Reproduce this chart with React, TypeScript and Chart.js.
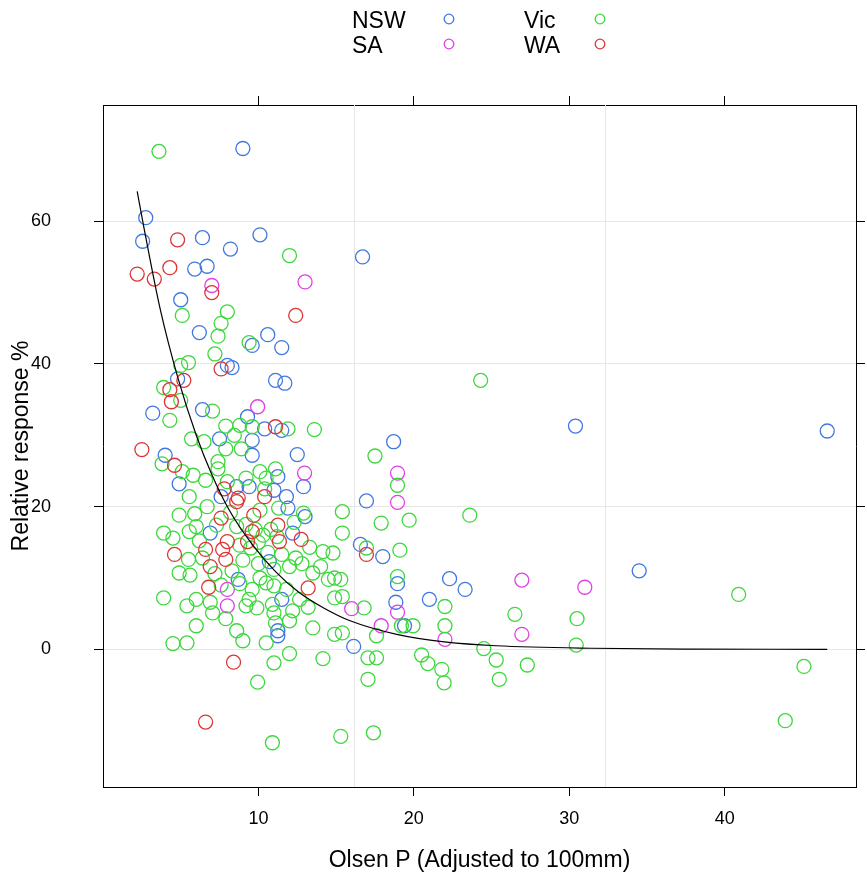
import React, { useEffect, useRef } from 'react';
import { Chart, registerables } from 'chart.js';

Chart.register(...registerables);

const FONT = '"Liberation Sans", Arial, Helvetica, sans-serif';

const xTicks = [10, 20, 30, 40];
const yTicks = [0, 20, 40, 60];
const xRefLines = [16.15, 32.3];
const xRange = [0, 48.45];
const yRange = [-19.3, 76.3];

const seriesNames = ['NSW', 'SA', 'Vic', 'WA'];
const seriesColors = ['#4178e0', '#e040e6', '#3cd83c', '#dd3535'];

const nswPoints: [number, number][] = [
  [9.0, 70.2], [2.75, 60.5], [2.55, 57.2], [6.4, 57.7], [10.1, 58.1], [8.2, 56.1], [5.9, 53.3], [6.7, 53.7],
  [16.7, 55.0], [5.0, 49.0], [6.2, 44.4], [10.6, 44.1], [9.6, 42.6], [11.5, 42.3], [8.0, 39.8], [8.3, 39.5],
  [11.1, 37.7], [11.7, 37.3], [4.8, 37.9], [3.2, 33.1], [6.4, 33.6], [9.3, 32.6], [10.4, 30.9], [11.5, 30.7],
  [7.5, 29.5], [9.6, 29.3], [9.6, 27.2], [12.5, 27.3], [4.0, 27.2], [4.9, 23.2], [11.25, 24.2], [12.9, 22.8],
  [8.6, 22.8], [9.4, 22.8], [11.0, 22.3], [11.8, 21.4], [11.9, 19.8], [7.6, 21.4], [13.0, 18.6], [6.9, 16.3],
  [12.2, 16.3], [10.7, 12.3], [8.7, 9.8], [11.5, 7.0], [11.25, 1.9], [11.25, 2.6], [30.4, 31.3], [18.7, 29.1],
  [16.95, 20.8], [16.56, 14.7], [18.0, 13.0], [18.95, 9.2], [22.3, 9.9], [23.3, 8.4], [18.84, 6.6], [21.0, 7.0],
  [19.4, 3.3], [16.13, 0.4], [46.6, 30.6], [34.5, 11.0],
];

const saPoints: [number, number][] = [
  [7.0, 51.0], [13.0, 51.5], [9.95, 34.0], [12.97, 24.7], [8.0, 8.4], [8.0, 6.1], [18.95, 24.7], [18.95, 20.6],
  [26.95, 9.7], [31.0, 8.7], [18.95, 5.2], [16.0, 5.7], [17.9, 3.3], [22.0, 1.4], [26.95, 2.1],
];

const vicPoints: [number, number][] = [
  [3.6, 69.8], [12.0, 55.2], [5.1, 46.8], [8.0, 47.3], [7.6, 45.7], [7.4, 43.9], [9.4, 43.0], [7.2, 41.4],
  [5.5, 40.2], [5.0, 39.8], [3.9, 36.7], [5.0, 34.9], [7.05, 33.4], [4.3, 32.1], [7.9, 31.3], [8.8, 31.4],
  [9.6, 31.2], [11.9, 30.9], [13.6, 30.8], [5.7, 29.5], [6.5, 29.1], [8.45, 30.0], [7.9, 28.1], [8.9, 28.1],
  [3.8, 26.0], [7.4, 26.3], [7.4, 25.3], [5.1, 24.9], [5.8, 24.4], [6.6, 23.7], [10.1, 24.9], [11.1, 25.3],
  [10.5, 24.0], [5.55, 21.4], [10.4, 22.5], [12.9, 19.1], [15.4, 19.3], [4.9, 18.8], [15.4, 16.3], [3.9, 16.3],
  [5.55, 16.5], [6.0, 17.2], [4.5, 15.6], [5.5, 12.6], [4.9, 10.7], [5.6, 10.4], [3.9, 7.2], [5.4, 6.1],
  [6.0, 7.0], [6.0, 3.3], [7.05, 5.1], [4.5, 0.8], [5.4, 0.9], [8.6, 2.6], [9.0, 1.2], [10.5, 0.9],
  [11.1, 3.7], [11.0, 5.1], [12.0, 4.0], [11.0, -1.9], [12.0, -0.6], [14.15, -1.3], [9.95, -4.6], [10.9, -13.1],
  [15.3, -12.2], [14.15, 13.7], [14.9, 10.0], [14.5, 9.8], [15.3, 9.8], [14.9, 7.2], [15.4, 7.4], [14.9, 2.1],
  [15.4, 2.3], [12.65, 7.0], [13.5, 10.7], [12.4, 12.8], [12.0, 11.6], [9.4, 7.0], [9.2, 6.1], [10.5, 9.3],
  [10.1, 10.0], [11.0, 8.9], [11.8, 8.4],
  [9.2, 17.5], [9.8, 16.8], [10.3, 16.0], [10.0, 15.0], [9.5, 14.2], [10.8, 16.8], [11.2, 15.8], [8.6, 17.2],
  [8.8, 14.6], [10.6, 13.6], [11.5, 13.3], [9.0, 12.5], [10.0, 12.0], [11.0, 11.2], [8.3, 11.0], [7.2, 10.6],
  [7.6, 9.0], [8.8, 9.2], [9.6, 8.4], [6.4, 12.8], [6.2, 15.2], [7.3, 17.4], [8.2, 19.2], [10.1, 19.5],
  [11.3, 19.8], [12.3, 17.8], [13.3, 14.3], [12.8, 12.0], [9.9, 5.8], [10.9, 6.3], [12.2, 5.4], [6.7, 20.0],
  [8.0, 23.5], [9.2, 24.0], [5.9, 19.0], [6.9, 6.6], [7.9, 4.3], [13.5, 3.0], [13.2, 5.9], [14.0, 11.6],
  [24.3, 37.7], [17.5, 27.1], [18.95, 23.0], [17.9, 17.7], [19.7, 18.1], [23.6, 18.8], [16.95, 14.2], [19.1, 13.9],
  [14.8, 13.5], [18.95, 10.2], [22.0, 6.0], [16.8, 5.8], [26.5, 4.9], [30.5, 4.3], [19.2, 3.3], [19.95, 3.3],
  [22.0, 3.3], [17.6, 1.9], [30.45, 0.6], [24.5, 0.1], [17.05, -1.2], [17.6, -1.2], [20.5, -0.8], [20.9, -2.0],
  [21.8, -2.8], [21.95, -4.7], [25.3, -1.5], [25.5, -4.2], [27.3, -2.2], [17.05, -4.2], [17.4, -11.7], [40.9, 7.7],
  [45.1, -2.4], [43.9, -10.0],
];

const waPoints: [number, number][] = [
  [4.8, 57.4], [2.2, 52.6], [3.3, 51.9], [4.3, 53.5], [7.0, 50.0], [12.4, 46.8], [7.6, 39.3], [5.2, 37.7],
  [4.3, 36.4], [4.4, 34.7], [11.1, 31.2], [2.5, 28.0], [4.6, 25.8], [7.8, 22.5], [10.4, 21.4], [8.7, 21.2],
  [8.6, 20.7], [7.6, 18.4], [9.7, 18.8], [11.25, 17.4], [8.0, 15.1], [6.6, 14.0], [7.7, 14.0], [7.9, 12.6],
  [6.9, 11.6], [4.6, 13.3], [9.3, 15.1], [11.35, 15.1], [12.75, 15.4], [9.6, 16.5], [6.8, 8.7], [13.2, 8.6],
  [8.4, -1.8], [6.6, -10.2], [16.95, 13.3],
];

const fitX = [2.2, 2.6, 3.7, 4.8, 6.0, 7.0, 8.1, 9.6, 11.1, 12.6, 14.2, 15.9, 18.9, 22.1, 25.3, 31.4, 38.0, 46.6];
const fitY = [64.2, 59.5, 47.5, 38.2, 30.0, 24.5, 19.6, 14.7, 10.9, 8.0, 5.8, 4.0, 2.1, 1.0, 0.5, 0.15, 0.03, 0.0];

const legendLayout = [
  { name: 'NSW', col: 0, row: 0 },
  { name: 'Vic', col: 1, row: 0 },
  { name: 'SA', col: 0, row: 1 },
  { name: 'WA', col: 1, row: 1 },
];

const toXY = (pts: [number, number][]) => pts.map(([x, y]) => ({ x, y }));

const refLinePlugin = {
  id: 'refLines',
  beforeDatasetsDraw(chart: any) {
    const { ctx, chartArea, scales } = chart;
    ctx.save();
    ctx.strokeStyle = '#e6e6e6';
    ctx.lineWidth = 1;
    for (const v of xRefLines) {
      const px = Math.round(scales.x.getPixelForValue(v)) + 0.5;
      ctx.beginPath();
      ctx.moveTo(px, chartArea.top);
      ctx.lineTo(px, chartArea.bottom);
      ctx.stroke();
    }
    ctx.restore();
  },
};

const keyPlugin = {
  id: 'keyLegend',
  afterDraw(chart: any) {
    const { ctx } = chart;
    const textX = [352, 524];
    const symX = [449, 600];
    const baseY = [28, 53];
    const symY = [19, 44];
    ctx.save();
    ctx.font = `23px ${FONT}`;
    ctx.textAlign = 'left';
    ctx.textBaseline = 'alphabetic';
    for (const item of legendLayout) {
      const idx = seriesNames.indexOf(item.name);
      ctx.fillStyle = '#000';
      ctx.fillText(item.name, textX[item.col], baseY[item.row]);
      ctx.strokeStyle = seriesColors[idx];
      ctx.lineWidth = 1.3;
      ctx.beginPath();
      ctx.arc(symX[item.col], symY[item.row], 4.8, 0, Math.PI * 2);
      ctx.stroke();
    }
    ctx.restore();
  },
};

export default function App() {
  const ref = useRef<HTMLCanvasElement | null>(null);

  useEffect(() => {
    document.body.style.margin = '0';
    const canvas = ref.current;
    if (!canvas) return;

    const scatterSet = (name: string, pts: [number, number][]) => {
      const idx = seriesNames.indexOf(name);
      return {
        label: name,
        data: toXY(pts),
        showLine: false,
        pointStyle: 'circle',
        pointRadius: 7,
        pointHoverRadius: 7,
        pointBorderWidth: 1.3,
        borderColor: seriesColors[idx],
        pointBorderColor: seriesColors[idx],
        backgroundColor: 'rgba(0,0,0,0)',
        pointBackgroundColor: 'rgba(0,0,0,0)',
      };
    };

    const tickGrid = (onArea: boolean) => ({
      drawOnChartArea: onArea,
      drawTicks: true,
      tickLength: 9,
      color: onArea ? '#e6e6e6' : '#000',
      tickColor: '#000',
      lineWidth: 1,
      tickWidth: 1,
    });
    const border = { display: true, color: '#000', width: 1 };

    const chart = new Chart(canvas, {
      type: 'scatter',
      data: {
        datasets: [
          {
            label: 'fit',
            data: fitX.map((x, i) => ({ x, y: fitY[i] })),
            showLine: true,
            borderColor: '#000',
            borderWidth: 1.2,
            pointRadius: 0,
            pointHoverRadius: 0,
            cubicInterpolationMode: 'monotone',
            fill: false,
          } as any,
          scatterSet('WA', waPoints),
          scatterSet('Vic', vicPoints),
          scatterSet('SA', saPoints),
          scatterSet('NSW', nswPoints),
        ],
      },
      options: {
        animation: false,
        responsive: false,
        maintainAspectRatio: false,
        devicePixelRatio: 1,
        layout: { padding: 0 },
        events: [],
        plugins: { legend: { display: false }, tooltip: { enabled: false } },
        scales: {
          x: {
            type: 'linear',
            position: 'bottom',
            min: xRange[0],
            max: xRange[1],
            afterBuildTicks: (s: any) => { s.ticks = xTicks.map((v) => ({ value: v })); },
            afterFit: (s: any) => { s.height = 90; },
            grid: tickGrid(false),
            border,
            ticks: { color: '#000', font: { family: FONT, size: 18 }, padding: 12, maxRotation: 0, autoSkip: false },
            title: {
              display: true,
              text: 'Olsen P (Adjusted to 100mm)',
              color: '#000',
              font: { family: FONT, size: 23 },
              padding: { top: 0, bottom: 3 },
            },
          },
          x2: {
            type: 'linear',
            position: 'top',
            min: xRange[0],
            max: xRange[1],
            afterBuildTicks: (s: any) => { s.ticks = xTicks.map((v) => ({ value: v })); },
            afterFit: (s: any) => { s.height = 105; },
            grid: tickGrid(false),
            border,
            ticks: { display: false },
          },
          y: {
            type: 'linear',
            position: 'left',
            min: yRange[0],
            max: yRange[1],
            afterBuildTicks: (s: any) => { s.ticks = yTicks.map((v) => ({ value: v })); },
            afterFit: (s: any) => { s.width = 103; },
            grid: tickGrid(true),
            border,
            ticks: { color: '#000', font: { family: FONT, size: 18 }, padding: 43, autoSkip: false },
            title: {
              display: true,
              text: 'Relative response %',
              color: '#000',
              font: { family: FONT, size: 23 },
              padding: { top: 8, bottom: 0 },
            },
          },
          y2: {
            type: 'linear',
            position: 'right',
            min: yRange[0],
            max: yRange[1],
            afterBuildTicks: (s: any) => { s.ticks = yTicks.map((v) => ({ value: v })); },
            afterFit: (s: any) => { s.width = 11; },
            grid: tickGrid(false),
            border,
            ticks: { display: false },
          },
        },
      } as any,
      plugins: [refLinePlugin, keyPlugin],
    });

    return () => chart.destroy();
  }, []);

  return (
    <div style={{ width: 867, height: 877 }}>
      <canvas ref={ref} width={867} height={877} style={{ width: 867, height: 877, display: 'block' }} />
    </div>
  );
}
